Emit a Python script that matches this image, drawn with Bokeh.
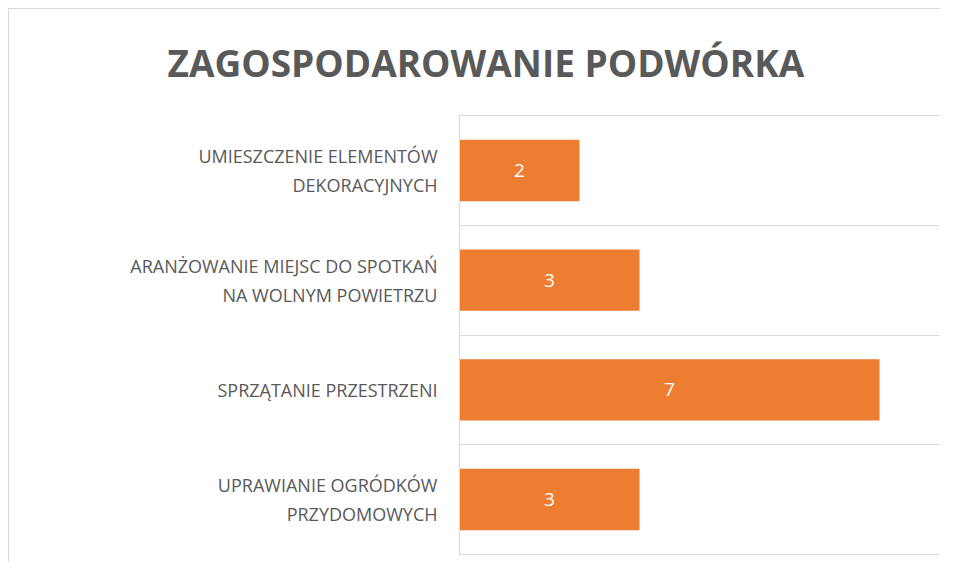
from bokeh.plotting import figure
from bokeh.models import Range1d, FixedTicker, ColumnDataSource
from bokeh.core.properties import value
from bokeh.embed import file_html
from bokeh.resources import INLINE

title_text = "ZAGOSPODAROWANIE PODWÓRKA"
categories = [
    "UMIESZCZENIE ELEMENTÓW\nDEKORACYJNYCH",
    "ARANŻOWANIE MIEJSC DO SPOTKAŃ\nNA WOLNYM POWIETRZU",
    "SPRZĄTANIE PRZESTRZENI",
    "UPRAWIANIE OGRÓDKÓW\nPRZYDOMOWYCH",
]
values = [2, 3, 7, 3]
x_max = 8

n = len(categories)
ypos = [n - 1 - i for i in range(n)]

src = ColumnDataSource(dict(
    y=ypos,
    v=values,
    mid=[v / 2 for v in values],
    lbl=[str(v) for v in values],
))

p = figure(
    width=940, height=562,
    output_backend="svg", toolbar_location=None,
    x_range=Range1d(0, x_max), y_range=Range1d(-0.51, n - 0.49),
    min_border_left=459, min_border_right=1,
    min_border_top=114, min_border_bottom=7,
)
p.outline_line_color = None
p.background_fill_color = "white"
p.border_fill_color = None
p.styles = {
    "background": (
        "linear-gradient(#D9D9D9,#D9D9D9) 8px 8px / 1px 100% no-repeat, "
        "linear-gradient(#D9D9D9,#D9D9D9) 8px 8px / 100% 1px no-repeat, white"
    )
}

p.title.text = title_text
p.title.align = "left"
p.title.offset = -292
p.title.text_font = "Open Sans"
p.title.text_font_style = "bold"
p.title.text_font_size = "37px"
p.title.text_color = "#595959"
p.title.standoff = 54

p.hbar(y="y", left=0, right="v", height=0.56, source=src,
       fill_color="#ED7D31", line_color=None)
p.text(x="mid", y="y", text="lbl", source=src,
       text_color="white", text_align="center", text_baseline="middle",
       text_font=value("Open Sans"), text_font_size="19px")

p.xaxis.visible = False
p.xgrid.visible = False

p.ygrid.ticker = FixedTicker(ticks=[i - 0.5 for i in range(n + 1)])
p.ygrid.grid_line_color = "#D9D9D9"
p.ygrid.grid_line_width = 1

yax = p.yaxis[0]
yax.ticker = FixedTicker(ticks=ypos)
yax.major_label_overrides = {y: c for y, c in zip(ypos, categories)}
yax.axis_line_color = "#D9D9D9"
yax.major_tick_line_color = None
yax.minor_tick_line_color = None
yax.major_label_standoff = 16
yax.major_label_text_font = "Open Sans"
yax.major_label_text_font_size = "18px"
yax.major_label_text_color = "#595959"

open("out.html", "w").write(file_html(p, INLINE))
